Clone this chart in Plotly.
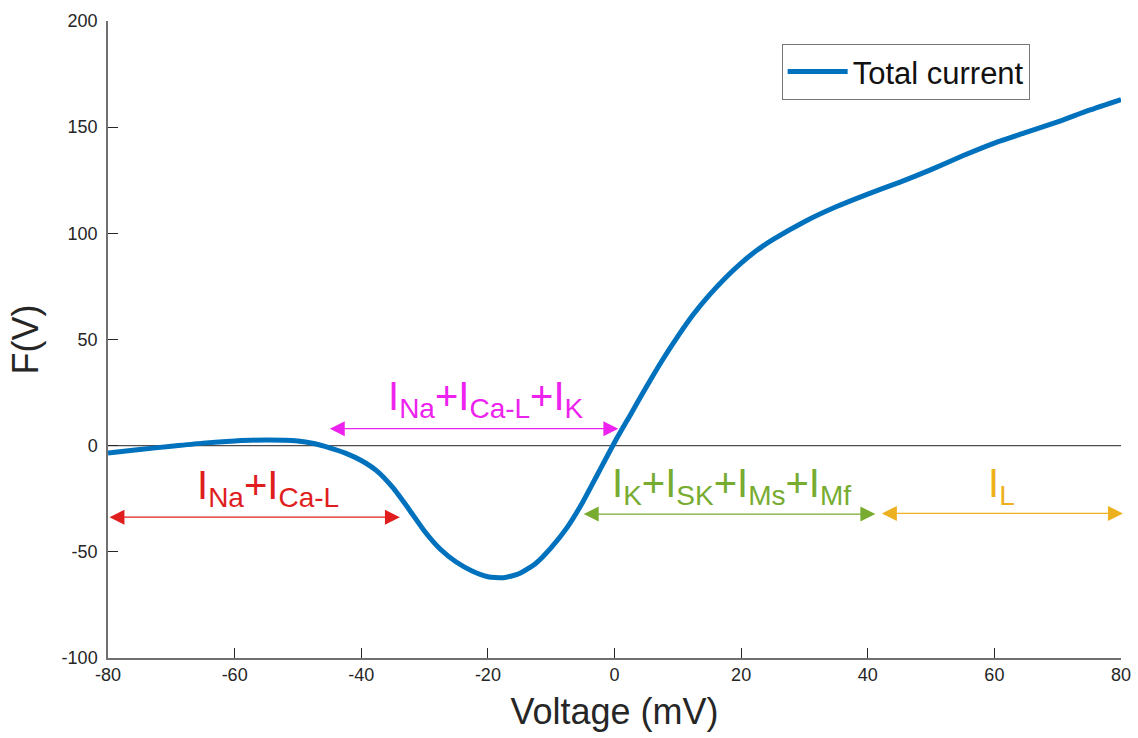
import plotly.graph_objects as go

# Total membrane current F(V) against membrane voltage
voltage = [-80, -75, -70, -65, -60, -55, -50, -47.5, -45, -42.5, -40, -37.5, -35,
           -32.5, -30, -27.5, -25, -22.5, -20, -17.5, -15, -12.5, -10, -7.5, -5,
           -2.5, 0, 2.5, 5, 7.5, 10, 12.5, 15, 17.5, 20, 22.5, 25, 30, 35, 40, 45,
           50, 55, 60, 65, 70, 75, 80]
total_current = [-3.4, -1.8, -0.3, 1.2, 2.2, 2.7, 2.2, 1.0, -1.0, -3.5, -7.0, -12.0,
                 -19.8, -29.8, -40.3, -48.8, -54.8, -59.0, -61.7, -62.2, -60.2, -55.6,
                 -48.0, -38.6, -26.5, -12.5, 1.5, 14.5, 27.5, 40.0, 51.5, 62.0, 71.0,
                 79.0, 86.0, 92.0, 97.0, 105.5, 112.5, 118.5, 124.0, 130.0, 136.5,
                 142.5, 147.5, 152.5, 158.0, 163.0]

# Voltage ranges dominated by each group of currents:
# (label, start, end, arrow level, colour, label x, label y)
ranges = [
    ("I<sub>Na</sub>+I<sub>Ca-L</sub>+I<sub>K</sub>", -45.2, 0.6, 8, "#EE22EE", -20.3, 22),
    ("I<sub>Na</sub>+I<sub>Ca-L</sub>", -80, -33.9, -33.7, "#E01E1E", -54.8, -20),
    ("I<sub>K</sub>+I<sub>SK</sub>+I<sub>Ms</sub>+I<sub>Mf</sub>", -5.1, 41.2, -32.2, "#77AC30", 18.4, -19),
    ("I<sub>L</sub>", 42, 80.3, -31.9, "#EDB120", 61.2, -19),
]

x_ticks = [-80, -60, -40, -20, 0, 20, 40, 60, 80]
y_ticks = [-100, -50, 0, 50, 100, 150, 200]

FONT = "Liberation Sans, Arial, sans-serif"

fig = go.Figure()

# zero reference line
fig.add_trace(go.Scatter(x=[-80, 80], y=[0, 0], mode="lines",
                         line=dict(color="#4d4d4d", width=1.2),
                         showlegend=False, hoverinfo="skip"))

fig.add_trace(go.Scatter(x=voltage, y=total_current, mode="lines",
                         name="Total current",
                         line=dict(color="#0072BD", width=5, shape="spline", smoothing=0.6)))

annotations = []
for label, x0, x1, level, colour, tx, ty in ranges:
    annotations.append(dict(x=x1, y=level, ax=x0, ay=level, xref="x", yref="y",
                            axref="x", ayref="y", text="", showarrow=True,
                            arrowhead=2, startarrowhead=2, arrowside="end+start",
                            arrowsize=2.3, startarrowsize=2.3, arrowwidth=1.3,
                            arrowcolor=colour, standoff=0, startstandoff=0))
    annotations.append(dict(x=tx, y=ty, xref="x", yref="y", text=label,
                            showarrow=False, xanchor="center", yanchor="middle",
                            font=dict(size=40, color=colour, family=FONT)))

axis_common = dict(ticks="inside", ticklen=10, tickcolor="#262626", tickwidth=1,
                   showline=True, linecolor="#707070", linewidth=1.5,
                   showgrid=False, zeroline=False, mirror=False, automargin=False,
                   tickfont=dict(size=18, color="#262626", family=FONT))

fig.update_layout(
    width=1138, height=738,
    margin=dict(l=108, r=17, t=21, b=80),
    paper_bgcolor="white", plot_bgcolor="white",
    font=dict(family=FONT, color="#262626"),
    annotations=annotations,
    showlegend=True,
    legend=dict(x=0.665, y=0.964, xanchor="left", yanchor="top",
                bordercolor="#777777", borderwidth=1, bgcolor="white",
                font=dict(size=31, color="#111111", family=FONT), itemwidth=60,
                tracegroupgap=0),
    xaxis=dict(range=[-80, 80], tickvals=x_ticks,
               ticktext=[str(v) for v in x_ticks],
               title=dict(text="Voltage (mV)", font=dict(size=36, color="#262626"),
                          standoff=14),
               **axis_common),
    yaxis=dict(range=[-100, 200], tickvals=y_ticks,
               ticktext=[str(v) + "\u00a0" for v in y_ticks],
               title=dict(text="F(V)", font=dict(size=36, color="#262626"),
                          standoff=12),
               **axis_common),
)

fig.write_html("out.html")
